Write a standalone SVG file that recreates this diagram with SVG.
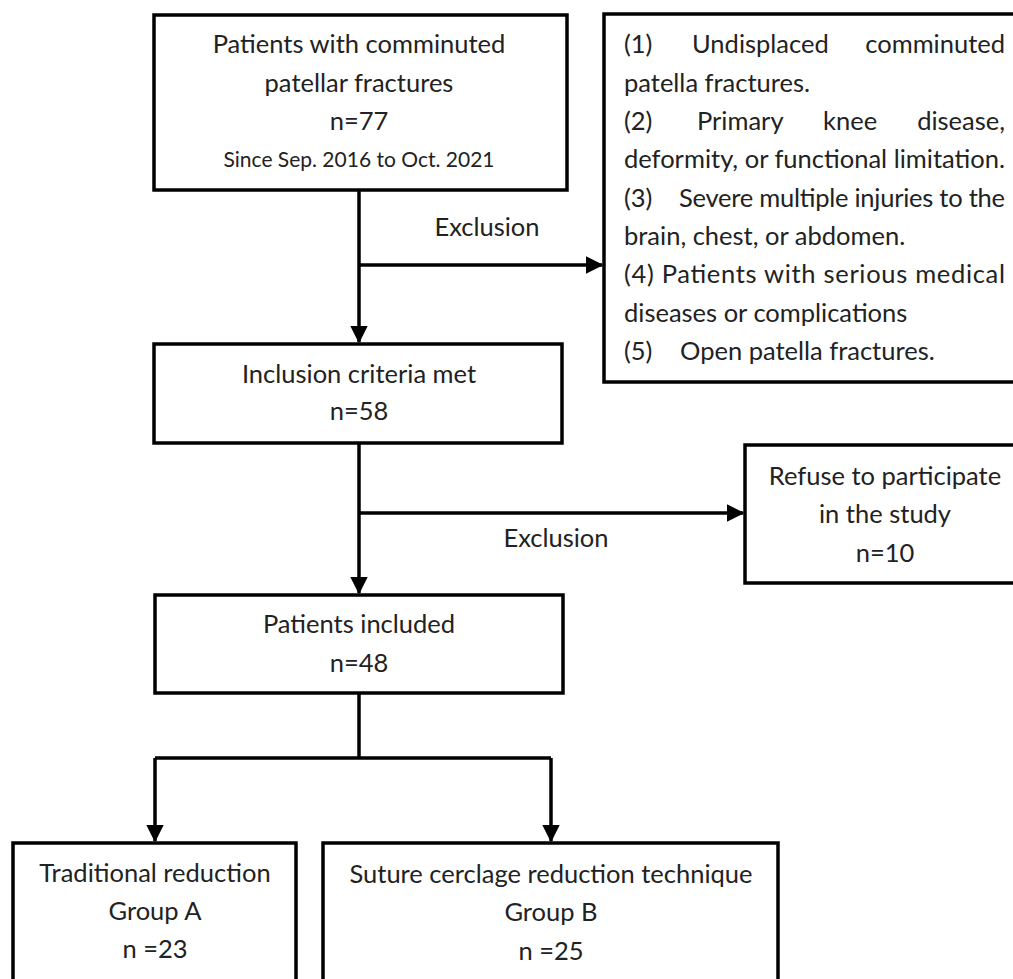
<svg xmlns="http://www.w3.org/2000/svg" width="1013" height="979" viewBox="0 0 1013 979">
<style>
.box{fill:#fff;stroke:#000;stroke-width:3.5}
.t{font-family:Lato,"Open Sans","Liberation Sans",sans-serif;font-size:25.5px;fill:#222}
.c{text-anchor:middle}
.s{font-size:21px}
.ln{stroke:#000;stroke-width:3.5;fill:none}
</style>
<defs>
<marker id="ah" markerWidth="5" markerHeight="5" refX="4.6" refY="2.5" orient="auto" markerUnits="strokeWidth" viewBox="0 0 5 5">
<path d="M0,0 L5,2.5 L0,5 z" fill="#000"/>
</marker>
</defs>
<g id="connectors">
<path class="ln" d="M359,190 V342" marker-end="url(#ah)"/>
<path class="ln" d="M359,265 H602" marker-end="url(#ah)"/>
<path class="ln" d="M359,443 V593" marker-end="url(#ah)"/>
<path class="ln" d="M359,513 H743" marker-end="url(#ah)"/>
<path class="ln" d="M359,693 V758"/>
<path class="ln" d="M155,758 H551"/>
<path class="ln" d="M155,758 V841" marker-end="url(#ah)"/>
<path class="ln" d="M551,758 V841" marker-end="url(#ah)"/>
<text class="t c" x="487" y="236">Exclusion</text>
<text class="t c" x="556" y="547">Exclusion</text>
</g>
<g id="n1">
<rect class="box" x="154" y="15" width="413" height="175"/>
<text class="t c" x="359" y="53">Patients with comminuted</text>
<text class="t c" x="359" y="92">patellar fractures</text>
<text class="t c" x="359" y="130">n=77</text>
<text class="t c s" x="359" y="167">Since Sep. 2016 to Oct. 2021</text>
</g>
<g id="n2">
<rect class="box" x="604" y="14" width="420" height="368"/>
<text class="t" x="624" y="53">(1)</text>
<text class="t" x="692" y="53">Undisplaced</text>
<text class="t" x="1005" y="53" text-anchor="end">comminuted</text>
<text class="t" x="624" y="92">patella fractures.</text>
<text class="t" x="624" y="130">(2)</text>
<text class="t" x="697" y="130">Primary</text>
<text class="t" x="823" y="130">knee</text>
<text class="t" x="1005" y="130" text-anchor="end">disease,</text>
<text class="t" x="624" y="168" textLength="381" lengthAdjust="spacing">deformity, or functional limitation.</text>
<text class="t" x="624" y="207">(3)</text>
<text class="t" x="679" y="207" textLength="326" lengthAdjust="spacing">Severe multiple injuries to the</text>
<text class="t" x="624" y="245">brain, chest, or abdomen.</text>
<text class="t" x="624" y="283" textLength="381" lengthAdjust="spacing">(4) Patients with serious medical</text>
<text class="t" x="624" y="322">diseases or complications</text>
<text class="t" x="624" y="360">(5)</text>
<text class="t" x="680" y="360">Open patella fractures.</text>
</g>
<g id="n3">
<rect class="box" x="154" y="344" width="408" height="99"/>
<text class="t c" x="359" y="383">Inclusion criteria met</text>
<text class="t c" x="359" y="420">n=58</text>
</g>
<g id="n4">
<rect class="box" x="745" y="445" width="280" height="138"/>
<text class="t c" x="885" y="485">Refuse to participate</text>
<text class="t c" x="885" y="523">in the study</text>
<text class="t c" x="885" y="562">n=10</text>
</g>
<g id="n5">
<rect class="box" x="155" y="595" width="408" height="98"/>
<text class="t c" x="359" y="633">Patients included</text>
<text class="t c" x="359" y="672">n=48</text>
</g>
<g id="n6">
<rect class="box" x="13" y="843" width="283" height="150"/>
<text class="t c" x="155" y="882">Traditional reduction</text>
<text class="t c" x="155" y="920">Group A</text>
<text class="t c" x="155" y="958">n =23</text>
</g>
<g id="n7">
<rect class="box" x="323" y="843" width="455" height="150"/>
<text class="t c" x="551" y="883">Suture cerclage reduction technique</text>
<text class="t c" x="551" y="921">Group B</text>
<text class="t c" x="551" y="960">n =25</text>
</g>
</svg>
